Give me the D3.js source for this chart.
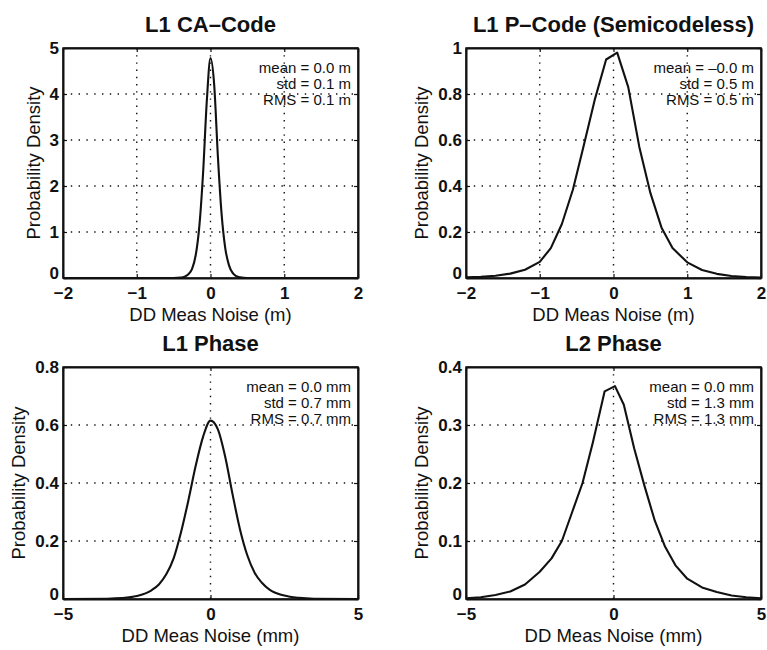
<!DOCTYPE html>
<html>
<head>
<meta charset="utf-8">
<script src="https://cdn.jsdelivr.net/npm/d3@7"></script>
<style>
body { margin: 0; background: #fff; }
svg text { font-family: "Liberation Sans", Arial, Helvetica, sans-serif; fill: #111; }
</style>
</head>
<body>
<svg id="chart" width="767" height="650"></svg>
<script>
var titles = ["L1 CA\u2013Code", "L1 P\u2013Code (Semicodeless)", "L1 Phase", "L2 Phase"];
var xLabels = ["DD Meas Noise (m)", "DD Meas Noise (m)", "DD Meas Noise (mm)", "DD Meas Noise (mm)"];
var yLabel = "Probability Density";

var xDomains = [[-2, 2], [-2, 2], [-5, 5], [-5, 5]];
var yDomains = [[0, 5], [0, 1], [0, 0.8], [0, 0.4]];
var xTicks = [[-2, -1, 0, 1, 2], [-2, -1, 0, 1, 2], [-5, 0, 5], [-5, 0, 5]];
var yTicks = [[0, 1, 2, 3, 4, 5], [0, 0.2, 0.4, 0.6, 0.8, 1], [0, 0.2, 0.4, 0.6, 0.8], [0, 0.1, 0.2, 0.3, 0.4]];

var stats = [
  ["mean = 0.0 m", "std = 0.1 m", "RMS = 0.1 m"],
  ["mean = \u20130.0 m", "std = 0.5 m", "RMS = 0.5 m"],
  ["mean = 0.0 mm", "std = 0.7 mm", "RMS = 0.7 mm"],
  ["mean = 0.0 mm", "std = 1.3 mm", "RMS = 1.3 mm"]
];

// L1 CA-code density
var caX = [-2, -0.5, -0.4, -0.35, -0.3, -0.25, -0.2, -0.15, -0.1, -0.05, 0, 0.05, 0.1, 0.15, 0.2, 0.25, 0.3, 0.35, 0.4, 0.5, 2];
var caY = [0, 0, 0.01, 0.03, 0.08, 0.2, 0.5, 1.15, 2.3, 3.85, 4.78, 4.2, 2.65, 1.4, 0.65, 0.28, 0.11, 0.04, 0.015, 0, 0];

// L1 P-code (semicodeless) density
var pX = [-2, -1.8, -1.6, -1.4, -1.2, -1.0, -0.85, -0.7, -0.55, -0.4, -0.25, -0.1, 0.05, 0.2, 0.35, 0.5, 0.65, 0.8, 1.0, 1.2, 1.4, 1.6, 1.8, 2];
var pY = [0.003, 0.005, 0.01, 0.019, 0.036, 0.07, 0.13, 0.235, 0.385, 0.58, 0.78, 0.95, 0.98, 0.83, 0.57, 0.37, 0.22, 0.13, 0.068, 0.035, 0.018, 0.009, 0.004, 0.002];

// L1 phase density
var l1X = [-5, -3.5, -3, -2.5, -2, -1.75, -1.5, -1.25, -1, -0.75, -0.5, -0.25, 0, 0.25, 0.5, 0.75, 1, 1.25, 1.5, 1.75, 2, 2.5, 3, 3.5, 5];
var l1Y = [0, 0.001, 0.003, 0.01, 0.03, 0.05, 0.085, 0.14, 0.23, 0.34, 0.46, 0.56, 0.615, 0.585, 0.49, 0.36, 0.24, 0.15, 0.09, 0.055, 0.032, 0.012, 0.004, 0.001, 0];

// L2 phase density
var l2X = [-5, -4.5, -4, -3.5, -3, -2.5, -2.1, -1.75, -1.4, -1.05, -0.7, -0.3, 0.05, 0.35, 0.7, 1.05, 1.4, 1.75, 2.1, 2.5, 3, 3.5, 4, 4.5, 5];
var l2Y = [0.001, 0.003, 0.007, 0.013, 0.025, 0.047, 0.07, 0.1, 0.15, 0.2, 0.27, 0.358, 0.367, 0.335, 0.26, 0.195, 0.135, 0.09, 0.058, 0.035, 0.02, 0.012, 0.006, 0.003, 0.001];

var curvesX = [caX, pX, l1X, l2X];
var curvesY = [caY, pY, l1Y, l2Y];
var smooth = [true, false, true, false];

// layout of the 2x2 grid
var lefts = [63, 466], tops = [48, 367];
var w = 295, hs = [230, 232];

var svg = d3.select("#chart");
var fmt = d3.format("~g");

titles.forEach(function(title, i) {
  var col = i % 2, row = Math.floor(i / 2);
  var h = hs[row];
  var g = svg.append("g").attr("transform", "translate(" + lefts[col] + "," + tops[row] + ")");

  var x = d3.scaleLinear().domain(xDomains[i]).range([0, w]);
  var y = d3.scaleLinear().domain(yDomains[i]).range([h, 0]);

  // dotted grid
  g.selectAll(".gx").data(xTicks[i].slice(1, -1)).enter().append("line")
    .attr("x1", d => x(d)).attr("x2", d => x(d)).attr("y1", 0).attr("y2", h)
    .attr("stroke", "#111").attr("stroke-width", 1.4).attr("stroke-dasharray", "1.4,5.8");
  g.selectAll(".gy").data(yTicks[i].slice(1, -1)).enter().append("line")
    .attr("y1", d => y(d)).attr("y2", d => y(d)).attr("x1", 0).attr("x2", w)
    .attr("stroke", "#111").attr("stroke-width", 1.4).attr("stroke-dasharray", "1.4,6.4");

  // frame
  g.append("rect").attr("width", w).attr("height", h)
    .attr("fill", "none").attr("stroke", "#111").attr("stroke-width", 1.5);

  // axes with inward ticks
  var ax = g.append("g").attr("transform", "translate(0," + h + ")")
    .call(d3.axisBottom(x).tickValues(xTicks[i]).tickFormat(fmt).tickSizeInner(-4).tickSizeOuter(0).tickPadding(8));
  var ay = g.append("g")
    .call(d3.axisLeft(y).tickValues(yTicks[i]).tickFormat(fmt).tickSizeInner(-4).tickSizeOuter(0).tickPadding(4));
  g.append("g").call(d3.axisTop(x).tickValues(xTicks[i]).tickFormat("").tickSizeInner(-4).tickSizeOuter(0));
  g.append("g").attr("transform", "translate(" + w + ",0)")
    .call(d3.axisRight(y).tickValues(yTicks[i]).tickFormat("").tickSizeInner(-4).tickSizeOuter(0));

  g.selectAll(".domain").attr("stroke", "#111").attr("stroke-width", 2);
  g.selectAll(".tick line").attr("stroke", "#111").attr("stroke-width", 1.2);
  [ax, ay].forEach(function(a) {
    a.selectAll("text").attr("font-size", 17).attr("font-weight", "bold")
      .style("font-family", "'Liberation Sans', Arial, sans-serif").attr("fill", "#111");
  });
  // the zero label sits a little above the corner, clear of the x labels
  ay.selectAll(".tick text").filter(d => d === 0).attr("dy", "0.05em");
  ax.selectAll(".tick text").attr("dy", "0.78em");

  // density curve
  var pts = curvesX[i].map(function(v, k) { return [v, curvesY[i][k]]; });
  var line = d3.line().x(d => x(d[0])).y(d => y(d[1]))
    .curve(smooth[i] ? d3.curveMonotoneX : d3.curveLinear);
  g.append("path").datum(pts).attr("d", line)
    .attr("fill", "none").attr("stroke", "#111").attr("stroke-width", 2.1).attr("stroke-linejoin", "round");

  // statistics
  g.append("g").selectAll("text").data(stats[i]).enter().append("text")
    .attr("x", w - 7).attr("y", (d, k) => 25 + k * 16)
    .attr("text-anchor", "end").attr("font-size", 15).text(d => d);

  // title and labels
  g.append("text").attr("x", w / 2).attr("y", -16).attr("text-anchor", "middle")
    .attr("font-size", 22).attr("font-weight", "bold").text(title);
  g.append("text").attr("x", w / 2).attr("y", h + 43).attr("text-anchor", "middle")
    .attr("font-size", 18.5).text(xLabels[i]);

  var minX = d3.min(ay.selectAll("text").nodes(), n => n.getBBox().x - 4);
  g.append("text").attr("transform", "translate(" + (minX - 6) + "," + (h / 2) + ") rotate(-90)")
    .attr("text-anchor", "middle").attr("font-size", 18.5).text(yLabel);
});
</script>
</body>
</html>
